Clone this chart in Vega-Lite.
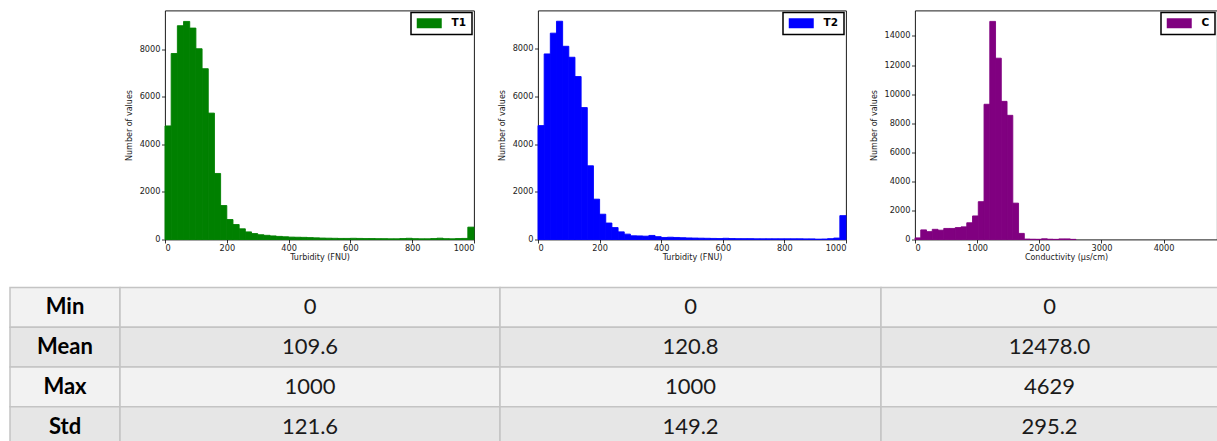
{
  "$schema": "https://vega.github.io/schema/vega-lite/v6.json",
  "padding": {"left": 9, "top": 9.5, "right": 0, "bottom": 0},
  "background": "white",
  "spacing": 0,
  "config": {
    "view": {"stroke": "#000", "strokeWidth": 0.9},
    "axis": {"domain": false, "grid": false, "ticks": true, "tickColor": "#000", "tickSize": 3.5, "tickWidth": 0.8, "format": "d",
      "labelFont": "DejaVu Sans", "labelFontSize": 8.2, "labelColor": "#222", "labelPadding": 1.5,
      "titleFont": "DejaVu Sans", "titleFontSize": 8, "titleFontWeight": "normal", "titleColor": "#222"},
    "axisX": {"titlePadding": 2},
    "axisY": {"titlePadding": 5.5},
    "legend": {"orient": "top-right", "offset": 2, "padding": 5.5, "strokeColor": "#000", "strokeWidth": 1.5, "fillColor": "#fff",
      "cornerRadius": 0, "symbolType": "M-2.5,-1H2.5V1H-2.5Z", "symbolSize": 100, "symbolOffset": 7.5, "labelOffset": 17,
      "labelFont": "DejaVu Sans", "labelFontSize": 10.5, "labelFontWeight": "bold", "labelColor": "#000", "symbolStrokeWidth": 0}
  },
  "datasets": {
    "hist": [
      {"series":"T1","bin_start":0,"bin_end":20,"count":4780},
      {"series":"T1","bin_start":20,"bin_end":40,"count":7830},
      {"series":"T1","bin_start":40,"bin_end":60,"count":9000},
      {"series":"T1","bin_start":60,"bin_end":80,"count":9180},
      {"series":"T1","bin_start":80,"bin_end":100,"count":8900},
      {"series":"T1","bin_start":100,"bin_end":120,"count":8030},
      {"series":"T1","bin_start":120,"bin_end":140,"count":7190},
      {"series":"T1","bin_start":140,"bin_end":160,"count":5320},
      {"series":"T1","bin_start":160,"bin_end":180,"count":2780},
      {"series":"T1","bin_start":180,"bin_end":200,"count":1430},
      {"series":"T1","bin_start":200,"bin_end":220,"count":840},
      {"series":"T1","bin_start":220,"bin_end":240,"count":630},
      {"series":"T1","bin_start":240,"bin_end":260,"count":450},
      {"series":"T1","bin_start":260,"bin_end":280,"count":320},
      {"series":"T1","bin_start":280,"bin_end":300,"count":250},
      {"series":"T1","bin_start":300,"bin_end":320,"count":200},
      {"series":"T1","bin_start":320,"bin_end":340,"count":175},
      {"series":"T1","bin_start":340,"bin_end":360,"count":150},
      {"series":"T1","bin_start":360,"bin_end":380,"count":130},
      {"series":"T1","bin_start":380,"bin_end":400,"count":115},
      {"series":"T1","bin_start":400,"bin_end":420,"count":100},
      {"series":"T1","bin_start":420,"bin_end":440,"count":95},
      {"series":"T1","bin_start":440,"bin_end":460,"count":90},
      {"series":"T1","bin_start":460,"bin_end":480,"count":80},
      {"series":"T1","bin_start":480,"bin_end":500,"count":70},
      {"series":"T1","bin_start":500,"bin_end":520,"count":60},
      {"series":"T1","bin_start":520,"bin_end":540,"count":55},
      {"series":"T1","bin_start":540,"bin_end":560,"count":50},
      {"series":"T1","bin_start":560,"bin_end":580,"count":45},
      {"series":"T1","bin_start":580,"bin_end":600,"count":45},
      {"series":"T1","bin_start":600,"bin_end":620,"count":50},
      {"series":"T1","bin_start":620,"bin_end":640,"count":45},
      {"series":"T1","bin_start":640,"bin_end":660,"count":40},
      {"series":"T1","bin_start":660,"bin_end":680,"count":40},
      {"series":"T1","bin_start":680,"bin_end":700,"count":35},
      {"series":"T1","bin_start":700,"bin_end":720,"count":35},
      {"series":"T1","bin_start":720,"bin_end":740,"count":30},
      {"series":"T1","bin_start":740,"bin_end":760,"count":30},
      {"series":"T1","bin_start":760,"bin_end":780,"count":40},
      {"series":"T1","bin_start":780,"bin_end":800,"count":50},
      {"series":"T1","bin_start":800,"bin_end":820,"count":35},
      {"series":"T1","bin_start":820,"bin_end":840,"count":30},
      {"series":"T1","bin_start":840,"bin_end":860,"count":30},
      {"series":"T1","bin_start":860,"bin_end":880,"count":40},
      {"series":"T1","bin_start":880,"bin_end":900,"count":55},
      {"series":"T1","bin_start":900,"bin_end":920,"count":35},
      {"series":"T1","bin_start":920,"bin_end":940,"count":30},
      {"series":"T1","bin_start":940,"bin_end":960,"count":40},
      {"series":"T1","bin_start":960,"bin_end":980,"count":45},
      {"series":"T1","bin_start":980,"bin_end":1000,"count":520},
      {"series":"T2","bin_start":0,"bin_end":20,"count":4775},
      {"series":"T2","bin_start":20,"bin_end":40,"count":7780},
      {"series":"T2","bin_start":40,"bin_end":60,"count":8650},
      {"series":"T2","bin_start":60,"bin_end":80,"count":9150},
      {"series":"T2","bin_start":80,"bin_end":100,"count":8100},
      {"series":"T2","bin_start":100,"bin_end":120,"count":7640},
      {"series":"T2","bin_start":120,"bin_end":140,"count":6830},
      {"series":"T2","bin_start":140,"bin_end":160,"count":5530},
      {"series":"T2","bin_start":160,"bin_end":180,"count":3090},
      {"series":"T2","bin_start":180,"bin_end":200,"count":1690},
      {"series":"T2","bin_start":200,"bin_end":220,"count":1060},
      {"series":"T2","bin_start":220,"bin_end":240,"count":690},
      {"series":"T2","bin_start":240,"bin_end":260,"count":500},
      {"series":"T2","bin_start":260,"bin_end":280,"count":320},
      {"series":"T2","bin_start":280,"bin_end":300,"count":225},
      {"series":"T2","bin_start":300,"bin_end":320,"count":155},
      {"series":"T2","bin_start":320,"bin_end":340,"count":150},
      {"series":"T2","bin_start":340,"bin_end":360,"count":140},
      {"series":"T2","bin_start":360,"bin_end":380,"count":170},
      {"series":"T2","bin_start":380,"bin_end":400,"count":120},
      {"series":"T2","bin_start":400,"bin_end":420,"count":85},
      {"series":"T2","bin_start":420,"bin_end":440,"count":95},
      {"series":"T2","bin_start":440,"bin_end":460,"count":85},
      {"series":"T2","bin_start":460,"bin_end":480,"count":75},
      {"series":"T2","bin_start":480,"bin_end":500,"count":65},
      {"series":"T2","bin_start":500,"bin_end":520,"count":60},
      {"series":"T2","bin_start":520,"bin_end":540,"count":55},
      {"series":"T2","bin_start":540,"bin_end":560,"count":50},
      {"series":"T2","bin_start":560,"bin_end":580,"count":45},
      {"series":"T2","bin_start":580,"bin_end":600,"count":40},
      {"series":"T2","bin_start":600,"bin_end":620,"count":50},
      {"series":"T2","bin_start":620,"bin_end":640,"count":40},
      {"series":"T2","bin_start":640,"bin_end":660,"count":35},
      {"series":"T2","bin_start":660,"bin_end":680,"count":35},
      {"series":"T2","bin_start":680,"bin_end":700,"count":35},
      {"series":"T2","bin_start":700,"bin_end":720,"count":30},
      {"series":"T2","bin_start":720,"bin_end":740,"count":30},
      {"series":"T2","bin_start":740,"bin_end":760,"count":30},
      {"series":"T2","bin_start":760,"bin_end":780,"count":30},
      {"series":"T2","bin_start":780,"bin_end":800,"count":30},
      {"series":"T2","bin_start":800,"bin_end":820,"count":30},
      {"series":"T2","bin_start":820,"bin_end":840,"count":30},
      {"series":"T2","bin_start":840,"bin_end":860,"count":30},
      {"series":"T2","bin_start":860,"bin_end":880,"count":25},
      {"series":"T2","bin_start":880,"bin_end":900,"count":25},
      {"series":"T2","bin_start":900,"bin_end":920,"count":15},
      {"series":"T2","bin_start":920,"bin_end":940,"count":20},
      {"series":"T2","bin_start":940,"bin_end":960,"count":35},
      {"series":"T2","bin_start":960,"bin_end":980,"count":60},
      {"series":"T2","bin_start":980,"bin_end":1000,"count":1000},
      {"series":"C","bin_start":0,"bin_end":92.58,"count":110},
      {"series":"C","bin_start":92.58,"bin_end":185.16,"count":660},
      {"series":"C","bin_start":185.16,"bin_end":277.74,"count":540},
      {"series":"C","bin_start":277.74,"bin_end":370.32,"count":700},
      {"series":"C","bin_start":370.32,"bin_end":462.9,"count":640},
      {"series":"C","bin_start":462.9,"bin_end":555.48,"count":760},
      {"series":"C","bin_start":555.48,"bin_end":648.06,"count":760},
      {"series":"C","bin_start":648.06,"bin_end":740.64,"count":820},
      {"series":"C","bin_start":740.64,"bin_end":833.22,"count":870},
      {"series":"C","bin_start":833.22,"bin_end":925.8,"count":1150},
      {"series":"C","bin_start":925.8,"bin_end":1018.38,"count":1620},
      {"series":"C","bin_start":1018.38,"bin_end":1110.96,"count":2600},
      {"series":"C","bin_start":1110.96,"bin_end":1203.54,"count":9300},
      {"series":"C","bin_start":1203.54,"bin_end":1296.12,"count":15000},
      {"series":"C","bin_start":1296.12,"bin_end":1388.7,"count":12470},
      {"series":"C","bin_start":1388.7,"bin_end":1481.28,"count":9500},
      {"series":"C","bin_start":1481.28,"bin_end":1573.86,"count":8540},
      {"series":"C","bin_start":1573.86,"bin_end":1666.44,"count":2500},
      {"series":"C","bin_start":1666.44,"bin_end":1759.02,"count":420},
      {"series":"C","bin_start":1759.02,"bin_end":1851.6,"count":30},
      {"series":"C","bin_start":1851.6,"bin_end":1944.18,"count":20},
      {"series":"C","bin_start":1944.18,"bin_end":2036.76,"count":15},
      {"series":"C","bin_start":2036.76,"bin_end":2129.34,"count":50},
      {"series":"C","bin_start":2129.34,"bin_end":2221.92,"count":20},
      {"series":"C","bin_start":2221.92,"bin_end":2314.5,"count":10},
      {"series":"C","bin_start":2314.5,"bin_end":2407.08,"count":40},
      {"series":"C","bin_start":2407.08,"bin_end":2499.66,"count":40},
      {"series":"C","bin_start":2499.66,"bin_end":2592.24,"count":10}
    ],
    "table": [
      {"stat":"Min","col":"label","value":"Min"},
      {"stat":"Mean","col":"label","value":"Mean"},
      {"stat":"Max","col":"label","value":"Max"},
      {"stat":"Std","col":"label","value":"Std"},
      {"stat":"Min","col":"T1","value":"0"},
      {"stat":"Mean","col":"T1","value":"109.6"},
      {"stat":"Max","col":"T1","value":"1000"},
      {"stat":"Std","col":"T1","value":"121.6"},
      {"stat":"Min","col":"T2","value":"0"},
      {"stat":"Mean","col":"T2","value":"120.8"},
      {"stat":"Max","col":"T2","value":"1000"},
      {"stat":"Std","col":"T2","value":"149.2"},
      {"stat":"Min","col":"C","value":"0"},
      {"stat":"Mean","col":"C","value":"12478.0"},
      {"stat":"Max","col":"C","value":"4629"},
      {"stat":"Std","col":"C","value":"295.2"}
    ]
  },
  "resolve": {"scale": {"color": "independent"}, "legend": {"color": "independent"}},
  "vconcat": [
    {
      "spacing": 0,
      "bounds": "flush",
      "resolve": {"scale": {"color": "independent"}, "legend": {"color": "independent"}},
      "hconcat": [
        {"width": 155, "height": 276, "view": {"stroke": null}, "data": {"values": [{"k": 1}]}, "mark": {"type": "point", "opacity": 0}, "encoding": {}},
        {
          "width": 309, "height": 229,
          "data": {"name": "hist"},
          "transform": [{"filter": "datum.series === 'T1'"}],
          "mark": {"type": "rect", "stroke": "#008000", "strokeWidth": 0.9},
          "encoding": {
            "x": {"field": "bin_start", "type": "quantitative", "scale": {"domain": [0, 1000], "nice": false, "zero": false}, "axis": {"values": [0, 200, 400, 600, 800, 1000], "title": "Turbidity (FNU)"}},
            "x2": {"field": "bin_end"},
            "y": {"field": "count", "type": "quantitative", "scale": {"domain": [0, 9640], "nice": false}, "axis": {"values": [0, 2000, 4000, 6000, 8000], "title": "Number of values"}},
            "y2": {"datum": 0},
            "color": {"field": "series", "type": "nominal", "scale": {"domain": ["T1"], "range": ["#008000"]}, "legend": {"title": null}}
          }
        },
        {"width": 64, "height": 276, "view": {"stroke": null}, "data": {"values": [{"k": 1}]}, "mark": {"type": "point", "opacity": 0}, "encoding": {}},
        {
          "width": 308, "height": 229,
          "data": {"name": "hist"},
          "transform": [{"filter": "datum.series === 'T2'"}],
          "mark": {"type": "rect", "stroke": "#0000ff", "strokeWidth": 0.9},
          "encoding": {
            "x": {"field": "bin_start", "type": "quantitative", "scale": {"domain": [0, 1000], "nice": false, "zero": false}, "axis": {"values": [0, 200, 400, 600, 800, 1000], "title": "Turbidity (FNU)"}},
            "x2": {"field": "bin_end"},
            "y": {"field": "count", "type": "quantitative", "scale": {"domain": [0, 9600], "nice": false}, "axis": {"values": [0, 2000, 4000, 6000, 8000], "title": "Number of values"}},
            "y2": {"datum": 0},
            "color": {"field": "series", "type": "nominal", "scale": {"domain": ["T2"], "range": ["#0000ff"]}, "legend": {"title": null}}
          }
        },
        {"width": 69, "height": 276, "view": {"stroke": null}, "data": {"values": [{"k": 1}]}, "mark": {"type": "point", "opacity": 0}, "encoding": {}},
        {
          "width": 302, "height": 229,
          "data": {"name": "hist"},
          "transform": [{"filter": "datum.series === 'C'"}],
          "mark": {"type": "rect", "stroke": "#800080", "strokeWidth": 0.9},
          "encoding": {
            "x": {"field": "bin_start", "type": "quantitative", "scale": {"domain": [0, 4860], "nice": false, "zero": false}, "axis": {"values": [0, 1000, 2000, 3000, 4000], "title": "Conductivity (µs/cm)"}},
            "x2": {"field": "bin_end"},
            "y": {"field": "count", "type": "quantitative", "scale": {"domain": [0, 15750], "nice": false}, "axis": {"values": [0, 2000, 4000, 6000, 8000, 10000, 12000, 14000], "title": "Number of values"}},
            "y2": {"datum": 0},
            "color": {"field": "series", "type": "nominal", "scale": {"domain": ["C"], "range": ["#800080"]}, "legend": {"title": null}}
          }
        }
      ]
    },
    {
      "spacing": 0,
      "bounds": "flush",
      "hconcat": [
        {
          "width": 110, "height": 159, "view": {"stroke": null},
          "data": {"name": "table"},
          "transform": [{"filter": "datum.col === 'label'"}],
          "encoding": {
            "x": {"field": "col", "type": "nominal", "axis": null, "scale": {"paddingInner": 0, "paddingOuter": 0}},
            "y": {"field": "stat", "type": "nominal", "sort": ["Min", "Mean", "Max", "Std"], "axis": null, "scale": {"paddingInner": 0, "paddingOuter": 0}}
          },
          "layer": [
            {"mark": {"type": "rect", "stroke": "#c4c4c4", "strokeWidth": 1.5},
             "encoding": {"fill": {"condition": {"test": "datum.stat === 'Mean' || datum.stat === 'Std'", "value": "#e6e6e6"}, "value": "#f2f2f2"}}},
            {"mark": {"type": "text", "font": "Lato", "fontSize": 22, "fontWeight": "bold", "color": "#000"},
             "encoding": {"text": {"field": "value"}}}
          ]
        },
        {
          "width": 380, "height": 159, "view": {"stroke": null},
          "data": {"name": "table"},
          "transform": [{"filter": "datum.col === 'T1'"}],
          "encoding": {
            "x": {"field": "col", "type": "nominal", "axis": null, "scale": {"paddingInner": 0, "paddingOuter": 0}},
            "y": {"field": "stat", "type": "nominal", "sort": ["Min", "Mean", "Max", "Std"], "axis": null, "scale": {"paddingInner": 0, "paddingOuter": 0}}
          },
          "layer": [
            {"mark": {"type": "rect", "stroke": "#c4c4c4", "strokeWidth": 1.5},
             "encoding": {"fill": {"condition": {"test": "datum.stat === 'Mean' || datum.stat === 'Std'", "value": "#e6e6e6"}, "value": "#f2f2f2"}}},
            {"mark": {"type": "text", "font": "Lato", "fontSize": 22, "color": "#1a1a1a"},
             "encoding": {"text": {"field": "value"}}}
          ]
        },
        {
          "width": 381, "height": 159, "view": {"stroke": null},
          "data": {"name": "table"},
          "transform": [{"filter": "datum.col === 'T2'"}],
          "encoding": {
            "x": {"field": "col", "type": "nominal", "axis": null, "scale": {"paddingInner": 0, "paddingOuter": 0}},
            "y": {"field": "stat", "type": "nominal", "sort": ["Min", "Mean", "Max", "Std"], "axis": null, "scale": {"paddingInner": 0, "paddingOuter": 0}}
          },
          "layer": [
            {"mark": {"type": "rect", "stroke": "#c4c4c4", "strokeWidth": 1.5},
             "encoding": {"fill": {"condition": {"test": "datum.stat === 'Mean' || datum.stat === 'Std'", "value": "#e6e6e6"}, "value": "#f2f2f2"}}},
            {"mark": {"type": "text", "font": "Lato", "fontSize": 22, "color": "#1a1a1a"},
             "encoding": {"text": {"field": "value"}}}
          ]
        },
        {
          "width": 337, "height": 159, "view": {"stroke": null},
          "data": {"name": "table"},
          "transform": [{"filter": "datum.col === 'C'"}],
          "encoding": {
            "x": {"field": "col", "type": "nominal", "axis": null, "scale": {"paddingInner": 0, "paddingOuter": 0}},
            "y": {"field": "stat", "type": "nominal", "sort": ["Min", "Mean", "Max", "Std"], "axis": null, "scale": {"paddingInner": 0, "paddingOuter": 0}}
          },
          "layer": [
            {"mark": {"type": "rect", "stroke": "#c4c4c4", "strokeWidth": 1.5},
             "encoding": {"fill": {"condition": {"test": "datum.stat === 'Mean' || datum.stat === 'Std'", "value": "#e6e6e6"}, "value": "#f2f2f2"}}},
            {"mark": {"type": "text", "font": "Lato", "fontSize": 22, "color": "#1a1a1a"},
             "encoding": {"text": {"field": "value"}}}
          ]
        }
      ]
    }
  ]
}
